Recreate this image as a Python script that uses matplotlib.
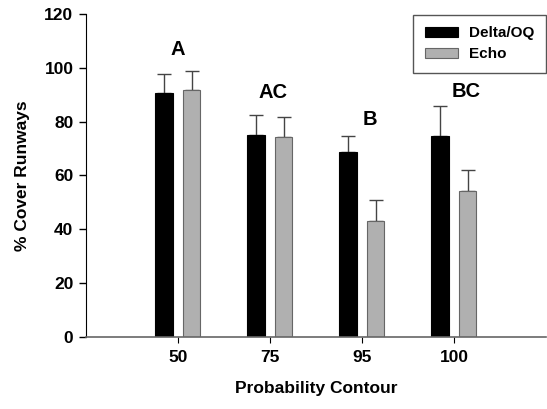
import matplotlib
matplotlib.use("Agg")
import matplotlib.pyplot as plt
import numpy as np

plt.rcParams['font.family'] = ['Liberation Sans', 'DejaVu Sans']
plt.rcParams['font.weight'] = 'bold'

contours = ["50", "75", "95", "100"]
delta = [90.5, 75.0, 68.6, 74.7]
delta_err = [7.3, 7.5, 6.1, 11.1]
echo = [91.9, 74.2, 43.2, 54.2]
echo_err = [6.9, 7.5, 7.7, 7.9]
letters = ["A", "AC", "B", "BC"]
letter_y = [106.7, 90.7, 80.7, 91.0]

fig = plt.figure(figsize=(5.47, 4.09), dpi=100)
ax = fig.add_axes([0.157, 0.176, 0.841, 0.790])

x = np.arange(1, len(contours) + 1)
w = 0.19
ax.bar(x - 0.15, delta, w, color="black", edgecolor="black", linewidth=0.8,
       label="Delta/OQ", zorder=2)
ax.bar(x + 0.15, echo, w, color="#b0b0b0", edgecolor="#666666", linewidth=0.8,
       label="Echo", zorder=2)
ax.errorbar(x - 0.15, delta, yerr=[np.zeros(4), delta_err], fmt="none",
            ecolor="#444444", elinewidth=1, capsize=5, capthick=1, zorder=1)
ax.errorbar(x + 0.15, echo, yerr=[np.zeros(4), echo_err], fmt="none",
            ecolor="#444444", elinewidth=1, capsize=5, capthick=1, zorder=1)

offs = [0.0, 0.03, 0.09, 0.13]
for xi, lab, ly, o in zip(x, letters, letter_y, offs):
    ax.text(xi + o, ly, lab, ha="center", va="center", fontsize=14.5, fontweight="bold")

ax.set_xlim(0, 5)
ax.set_ylim(0, 120)
ax.set_yticks(range(0, 121, 20))
ax.set_xticks(x)
ax.set_xticklabels(contours)
ax.tick_params(axis="y", labelsize=12.5, length=5, width=1, pad=4)
ax.tick_params(axis="x", labelsize=12.5, length=4, width=0.8, pad=5)
ax.spines["top"].set_visible(False)
ax.spines["right"].set_visible(False)
ax.spines["bottom"].set_color("#666666")
ax.spines["bottom"].set_linewidth(1.2)
ax.set_xlabel("Probability Contour", fontsize=12.5, fontweight="bold", labelpad=12)
ax.set_ylabel("% Cover Runways", fontsize=12.5, fontweight="bold", labelpad=10)

leg = ax.legend(loc="upper right", bbox_to_anchor=(1.0, 0.997), borderaxespad=0,
                fontsize=11, fancybox=False, edgecolor="#555555", handlelength=2.2,
                handleheight=0.7, handletextpad=0.7, borderpad=0.75,
                labelspacing=0.45, framealpha=1)
leg.get_frame().set_linewidth(1)

plt.savefig("out.png", dpi=100)
plt.close(fig)
